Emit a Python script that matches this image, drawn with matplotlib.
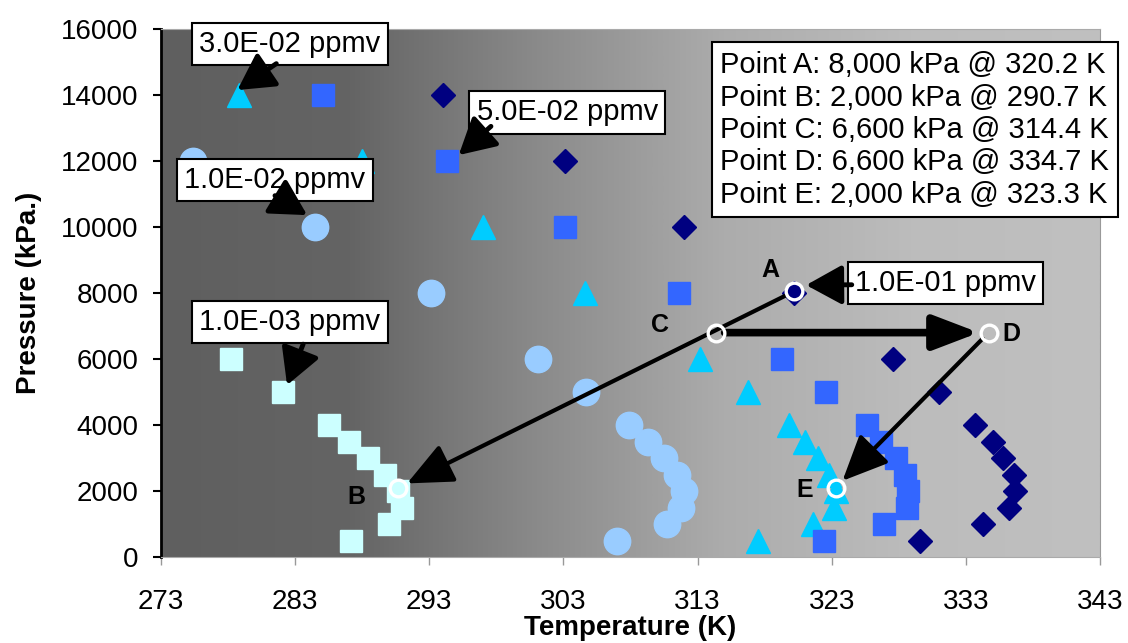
import numpy as np
import matplotlib
matplotlib.use('Agg')
import matplotlib.pyplot as plt
from matplotlib.colors import LinearSegmentedColormap

plt.rcParams['font.family'] = ['Liberation Sans', 'DejaVu Sans']

# Isopleths of concentration (temperature K, pressure kPa)
t_1e3 = [278.2, 282.1, 285.5, 287.0, 288.4, 289.7, 290.7, 291.0, 290.0, 287.2]
p_1e3 = [6000, 5000, 4000, 3500, 3000, 2500, 2000, 1500, 1000, 500]

t_1e2 = [275.4, 284.5, 293.1, 301.1, 304.7, 307.9, 309.3, 310.5, 311.5, 312.0, 311.8, 310.7, 307.0]
p_1e2 = [12000, 10000, 8000, 6000, 5000, 4000, 3500, 3000, 2500, 2000, 1500, 1000, 500]

t_3e2 = [278.8, 288.0, 297.0, 304.6, 313.2, 316.8, 319.8, 321.0, 322.0, 322.8, 323.3, 323.2, 321.6, 317.5]
p_3e2 = [14000, 12000, 10000, 8000, 6000, 5000, 4000, 3500, 3000, 2500, 2000, 1500, 1000, 500]

t_5e2 = [285.1, 294.3, 303.1, 311.6, 319.3, 322.6, 325.6, 326.7, 327.8, 328.5, 328.7, 328.6, 326.9, 322.4]
p_5e2 = [14000, 12000, 10000, 8000, 6000, 5000, 4000, 3500, 3000, 2500, 2000, 1500, 1000, 500]

t_1e1 = [294.0, 303.1, 312.0, 320.2, 327.6, 331.0, 333.7, 335.0, 335.8, 336.6, 336.7, 336.2, 334.3, 329.6]
p_1e1 = [14000, 12000, 10000, 8000, 6000, 5000, 4000, 3500, 3000, 2500, 2000, 1500, 1000, 500]

# Process points A-E
pt_names = ['A', 'B', 'C', 'D', 'E']
pt_t = [320.2, 290.7, 314.4, 334.7, 323.3]
pt_p = [8050, 2100, 6800, 6800, 2100]
pt_label_t = [318.4, 287.6, 310.2, 336.4, 321.0]
pt_label_p = [8700, 1820, 7030, 6760, 2030]

legend_lines = ['Point A: 8,000 kPa @ 320.2 K',
                'Point B: 2,000 kPa @ 290.7 K',
                'Point C: 6,600 kPa @ 314.4 K',
                'Point D: 6,600 kPa @ 334.7 K',
                'Point E: 2,000 kPa @ 323.3 K']

# Callout boxes: label, box centre, arrow tail, arrow tip
call_labels = ['3.0E-02 ppmv', '5.0E-02 ppmv', '1.0E-02 ppmv', '1.0E-03 ppmv', '1.0E-01 ppmv']
call_box = [(282.6, 15540), (303.3, 13470), (281.5, 11420), (282.6, 7120), (331.5, 8300)]
call_tail = [(281.6, 14950), (297.6, 13050), (281.5, 10950), (283.6, 6450), (324.5, 8250)]
call_tip = [(278.7, 14150), (295.2, 12180), (283.9, 10360), (282.4, 5210), (321.1, 8240)]

# Figure
fig = plt.figure(figsize=(11.28, 6.43), dpi=100)
ax = fig.add_axes([0.1427, 0.1337, 0.8324, 0.8212])

# Gradient background
bg = LinearSegmentedColormap.from_list('bg', ['#5f5f5f', '#646464', '#8a8a8a', '#acacac', '#bcbcbc', '#c0c0c0'])
ax.imshow(np.linspace(0, 1, 512).reshape(1, -1), extent=[0, 1, 0, 1], transform=ax.transAxes,
          cmap=bg, aspect='auto', zorder=0, interpolation='bicubic')

# Series
ax.plot(t_1e3, p_1e3, 's', color='#CCFFFF', markersize=16.5, zorder=3)
ax.plot(t_1e2, p_1e2, 'o', color='#99CCFF', markersize=19, zorder=3)
ax.plot(t_3e2, p_3e2, '^', color='#00CCFF', markersize=17, zorder=3)
ax.plot(t_5e2, p_5e2, 's', color='#3366FF', markersize=16, zorder=3)
ax.plot(t_1e1, p_1e1, 'D', color='#000080', markersize=12, zorder=3)

# Big process arrows
arrow_big = dict(color='black', shrinkA=6, shrinkB=7)
ax.annotate('', xy=(pt_t[1], pt_p[1]), xytext=(pt_t[0], pt_p[0]), zorder=5,
            arrowprops=dict(arrowstyle='-|>,head_length=1.0,head_width=0.45', lw=3, mutation_scale=28, **arrow_big))
ax.annotate('', xy=(pt_t[3], pt_p[3]), xytext=(pt_t[2], pt_p[2]), zorder=5,
            arrowprops=dict(arrowstyle='-|>,head_length=1.1,head_width=0.42', lw=5.5, mutation_scale=25, **arrow_big))
ax.annotate('', xy=(pt_t[4], pt_p[4]), xytext=(pt_t[3], pt_p[3]), zorder=5,
            arrowprops=dict(arrowstyle='-|>,head_length=1.0,head_width=0.45', lw=3, mutation_scale=28, **arrow_big))

# Open circles on points
ax.plot(pt_t, pt_p, 'o', mfc='none', mec='white', mew=2.4, markersize=12, zorder=6)
for name, lt, lp in zip(pt_names, pt_label_t, pt_label_p):
    ax.text(lt, lp, name, fontsize=18, fontweight='bold', ha='center', va='center', zorder=6)

# Callouts
for lab, bc, tl, tp in zip(call_labels, call_box, call_tail, call_tip):
    ax.text(bc[0], bc[1], lab, fontsize=21, ha='center', va='center', zorder=7,
            bbox=dict(boxstyle='square,pad=0.25', fc='white', ec='black', lw=1.5))
    ax.annotate('', xy=tp, xytext=tl, zorder=8,
                arrowprops=dict(arrowstyle='-|>,head_length=1.0,head_width=0.55', lw=3.5,
                                mutation_scale=22, color='black', shrinkA=0, shrinkB=0))

# Legend box
ax.text(314.7, 15330, '\n'.join(legend_lines), fontsize=21, ha='left', va='top', zorder=7,
        linespacing=1.2, bbox=dict(boxstyle='square,pad=0.3', fc='white', ec='black', lw=1.5))

ax.set_xlim(273, 343)
ax.set_ylim(0, 16000)
ax.set_xticks(np.arange(273, 344, 10))
ax.set_yticks(np.arange(0, 16001, 2000))
ax.tick_params(axis='y', direction='out', length=6, width=1.5, color='black', labelsize=20, pad=10)
ax.tick_params(axis='x', direction='out', length=6, width=1, color='#999999', labelsize=20, pad=17)
ax.spines['left'].set_color('black')
ax.spines['left'].set_linewidth(2)
ax.spines['bottom'].set_color('#aaaaaa')
ax.spines['top'].set_color('#aaaaaa')
ax.spines['right'].set_color('#999999')
ax.set_xlabel('Temperature (K)', fontsize=20, fontweight='bold', labelpad=0)
ax.set_ylabel('Pressure (kPa.)', fontsize=20, fontweight='bold', labelpad=14)

plt.savefig('out.png', dpi=100)
